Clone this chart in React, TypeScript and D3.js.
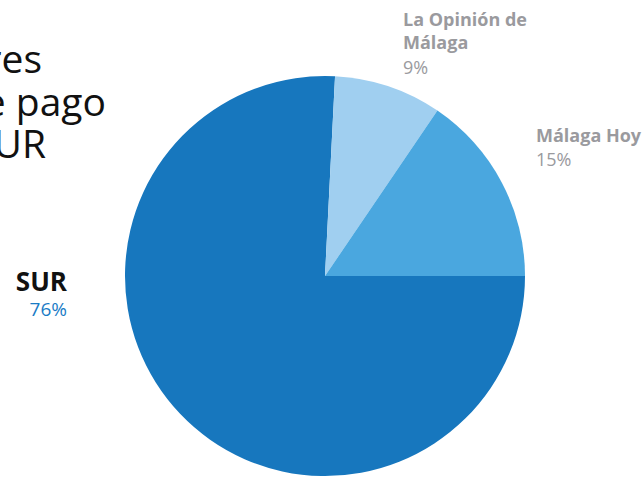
import React, { useEffect, useRef } from "react";
import * as d3 from "d3";

// datos de la tarta (ángulos; etiquetas tal como aparecen)
const medios = ["SUR", "La Opinión de Málaga", "Málaga Hoy"];
const cuotas = [75.8, 8.7, 15.5];
const etiquetas = ["76%", "9%", "15%"];
const colores = ["#1777be", "#a0cff0", "#4aa7df"];

// título (recortado por la izquierda en el original)
const tituloLineas = ["Cuota de lectores", "de prensa de pago", "de SUR"];

const App: React.FC = () => {
  const ref = useRef<HTMLDivElement>(null);

  useEffect(() => {
    if (!ref.current) return;
    document.body.style.margin = "0";
    d3.select(ref.current).selectAll("svg").remove();

    const width = 643;
    const height = 477;
    const cx = 325;
    const cy = 276;
    const radius = 200;
    const font = "'Open Sans', 'Noto Sans', sans-serif";

    const svg = d3.select(ref.current)
      .append("svg")
      .attr("width", width)
      .attr("height", height)
      .style("display", "block")
      .style("background", "#fff");

    // tarta empezando en las 3 en punto, sentido horario
    const pie = d3.pie<number>()
      .sort(null)
      .startAngle(Math.PI / 2)
      .endAngle(Math.PI / 2 + 2 * Math.PI);
    const arcs = pie(cuotas);
    const arc = d3.arc<d3.PieArcDatum<number>>().innerRadius(0).outerRadius(radius);

    svg.append("g")
      .attr("transform", `translate(${cx},${cy})`)
      .selectAll("path")
      .data(arcs)
      .join("path")
      .attr("d", arc)
      .attr("fill", (_, i) => colores[i]);

    // título
    const tituloEnds = [42, 106, 46];
    const tituloY = [73, 116, 158];
    svg.selectAll(".titulo")
      .data(tituloLineas)
      .join("text")
      .attr("class", "titulo")
      .attr("x", (_, i) => tituloEnds[i])
      .attr("y", (_, i) => tituloY[i])
      .attr("text-anchor", "end")
      .attr("font-family", font)
      .attr("font-size", 39)
      .attr("fill", "#111")
      .text(d => d);

    // etiqueta SUR
    svg.append("text")
      .attr("x", 67).attr("y", 291)
      .attr("text-anchor", "end")
      .attr("font-family", font)
      .attr("font-weight", 700)
      .attr("font-size", 26)
      .attr("fill", "#111")
      .text(medios[0]);
    svg.append("text")
      .attr("x", 67).attr("y", 316)
      .attr("text-anchor", "end")
      .attr("font-family", font)
      .attr("font-size", 19)
      .attr("fill", "#1a7cc6")
      .text(etiquetas[0]);

    const gris = "#9a9a9e";

    // La Opinión de Málaga
    const op = svg.append("text")
      .attr("font-family", font)
      .attr("font-size", 18)
      .attr("fill", gris);
    op.append("tspan").attr("x", 403).attr("y", 26).attr("font-weight", 700).text("La Opinión de");
    op.append("tspan").attr("x", 403).attr("y", 49).attr("font-weight", 700).text("Málaga");
    op.append("tspan").attr("x", 403).attr("y", 74).text(etiquetas[1]);

    // Málaga Hoy
    const hoy = svg.append("text")
      .attr("font-family", font)
      .attr("font-size", 18)
      .attr("fill", gris);
    hoy.append("tspan").attr("x", 536).attr("y", 142).attr("font-weight", 700).text(medios[2]);
    hoy.append("tspan").attr("x", 536).attr("y", 166).text(etiquetas[2]);
  }, []);

  return <div ref={ref} />;
};

export default App;
